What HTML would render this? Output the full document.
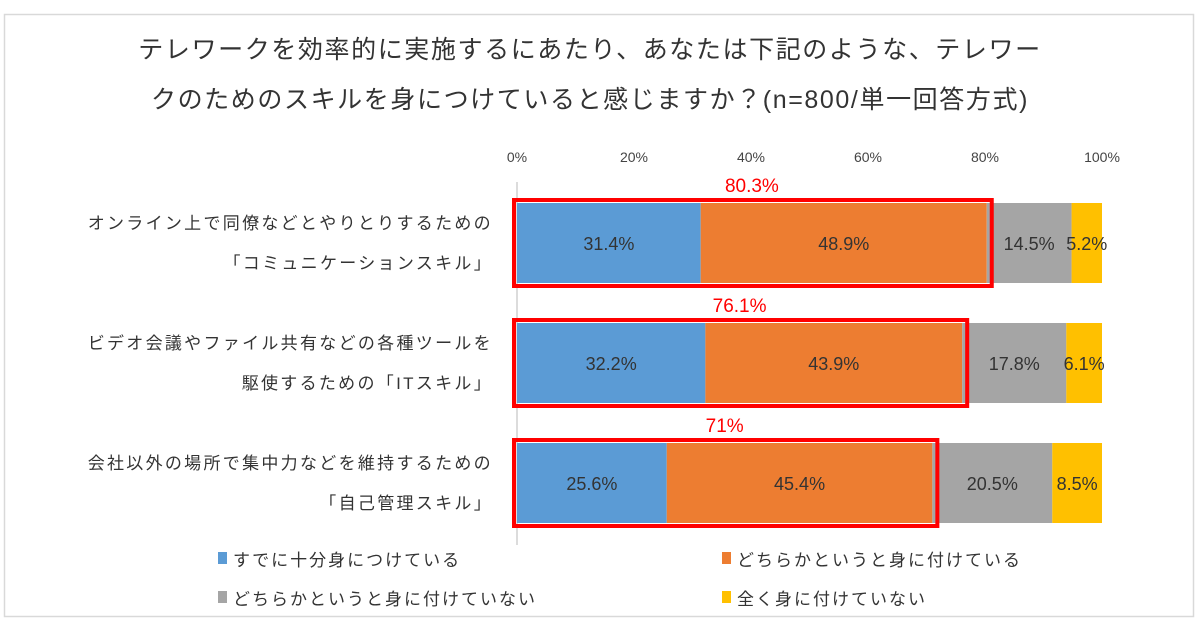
<!DOCTYPE html>
<html><head><meta charset="utf-8"><style>
body{margin:0;background:#fff;width:1200px;height:630px;overflow:hidden;font-family:"Liberation Sans","Noto Sans CJK JP",sans-serif;}
svg text{font-family:"Liberation Sans","Noto Sans CJK JP",sans-serif;}
</style></head><body>
<svg id="chart" width="1200" height="630" xmlns="http://www.w3.org/2000/svg">
<rect x="4.5" y="14.5" width="1189" height="602" fill="#fff" stroke="#d9d9d9" stroke-width="1.5"/>
<text x="590" y="58" font-size="25" letter-spacing="1.6" fill="#333" text-anchor="middle">テレワークを効率的に実施するにあたり、あなたは下記のような、テレワー</text>
<text x="590" y="108" font-size="25" letter-spacing="1.6" fill="#333" text-anchor="middle">クのためのスキルを身につけていると感じますか？(n=800/単一回答方式)</text>
<g id="plot"></g>
</svg>
<script>
const categories=[["オンライン上で同僚などとやりとりするための","「コミュニケーションスキル」"],["ビデオ会議やファイル共有などの各種ツールを","駆使するための「ITスキル」"],["会社以外の場所で集中力などを維持するための","「自己管理スキル」"]];
const seriesNames=["すでに十分身につけている","どちらかというと身に付けている","どちらかというと身に付けていない","全く身に付けていない"];
const s1=[31.4,32.2,25.6];
const s2=[48.9,43.9,45.4];
const s3=[14.5,17.8,20.5];
const s4=[5.2,6.1,8.5];
const totals=["80.3%","76.1%","71%"];
const ticks=[0,20,40,60,80,100];
const colors=["#5b9bd5","#ed7d31","#a5a5a5","#ffc000"];
const NS="http://www.w3.org/2000/svg";
const g=document.getElementById('plot');
const x0=517,x1=1102;
const xs=v=>x0+(x1-x0)*v/100;
const rowTop=i=>203+i*120, bh=80;
function el(t,a){const e=document.createElementNS(NS,t);for(const k in a)e.setAttribute(k,a[k]);g.appendChild(e);return e;}
ticks.forEach(t=>{const e=el('text',{x:xs(t),y:162,'font-size':14,fill:'#444','text-anchor':'middle'});e.textContent=t+'%';

});
const ax=el('line',{x1:x0,y1:182,x2:x0,y2:545,stroke:'#d0d0d0','stroke-width':1.5});


const series=[s1,s2,s3,s4];
categories.forEach((c,i)=>{
  const y=rowTop(i);let acc=0;
  series.forEach((s,k)=>{
    const v=s[i];
    const r=el('rect',{x:xs(acc),y:y,width:xs(acc+v)-xs(acc),height:bh,fill:colors[k]});
    
    
    const t=el('text',{x:(xs(acc)+xs(acc+v))/2,y:y+bh/2+7,'font-size':18,fill:'#333','text-anchor':'middle'});
    t.textContent=v+'%';
    
    
    acc+=v;
  });
  const tot=s1[i]+s2[i];
  const b=el('rect',{x:x0-3,y:y-3,width:xs(tot)-x0+8,height:bh+6,fill:'none',stroke:'#ff0000','stroke-width':4});
  
  
  const tl=el('text',{x:(x0+xs(tot))/2,y:y-11,'font-size':19,fill:'#ff0000','text-anchor':'middle'});
  tl.textContent=totals[i];
  
  
  c.forEach((line,j)=>{
    const t=el('text',{x:493,y:y+26+j*40,'font-size':17,'letter-spacing':2.3,fill:'#333','text-anchor':'end'});
    t.textContent=line;
    
    
  });
});
const legPos=[[218,559],[722,559],[218,598],[722,598]];
seriesNames.forEach((n,k)=>{
  const [lx,ly]=legPos[k];
  const r=el('rect',{x:lx,y:ly-7,width:9,height:12,fill:colors[k]});
  
  
  const t=el('text',{x:lx+15,y:ly+7,'font-size':17,'letter-spacing':2,fill:'#333'});
  t.textContent=n;
  
  
});
</script>
</body></html>
